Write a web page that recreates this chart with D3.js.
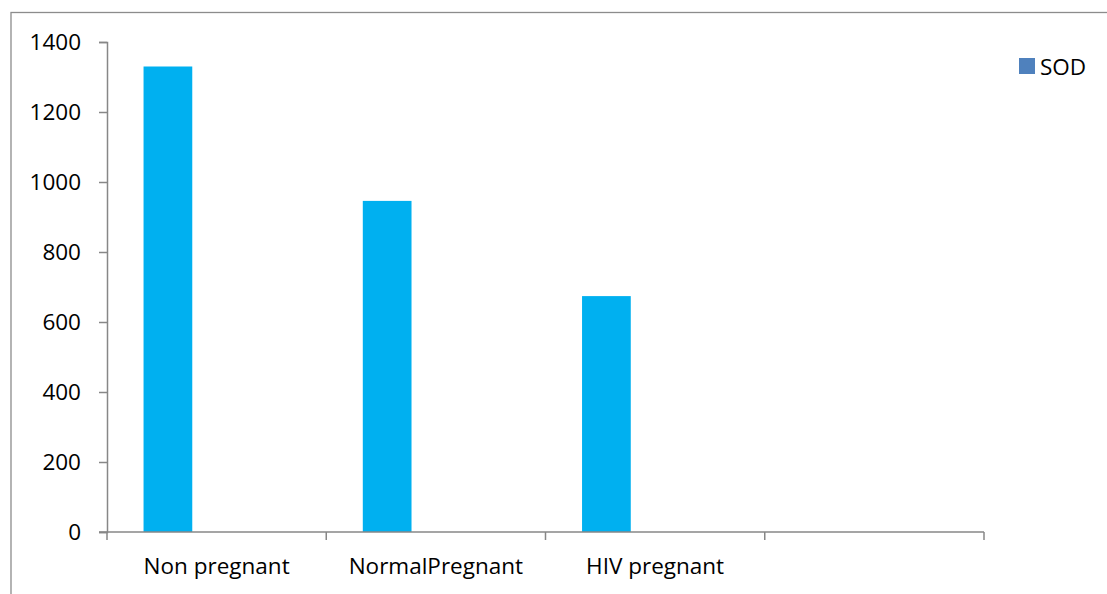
<!DOCTYPE html>
<html>
<head>
<meta charset="utf-8">
<script src="https://cdn.jsdelivr.net/npm/d3@7"></script>
<style>
  html, body { margin: 0; padding: 0; background: #fff; }
  svg { display: block; }
  text { font-family: "Open Sans", sans-serif; fill: #000; }
</style>
</head>
<body>
<svg id="chart" width="1107" height="594"></svg>
<script>
// Category axis (the last slot is an empty category)
const categories = ["Non pregnant", "NormalPregnant", "HIV pregnant", ""];
// SOD activity per group
const sodValues = [1330, 946, 674, null];
const seriesName = "SOD";
// Clustered layout reserves three series slots per category
const seriesSlots = [0, 1, 2];
const yTicks = [0, 200, 400, 600, 800, 1000, 1200, 1400];

const svg = d3.select("#chart");
const margin = { left: 107, right: 1107 - 984, top: 42, bottom: 594 - 532 };
const width = 1107, height = 594;

// Outer frame of the chart area
svg.append("rect")
  .attr("x", 11).attr("y", 12.5)
  .attr("width", 1200).attr("height", 700)
  .attr("fill", "none").attr("stroke", "#8c8c8c").attr("stroke-width", 1.3);

const x0 = d3.scaleBand()
  .domain(d3.range(categories.length))
  .range([margin.left, width - margin.right])
  .paddingInner(0).paddingOuter(0);

const x1 = d3.scaleBand()
  .domain(seriesSlots)
  .range([0, x0.bandwidth()])
  .paddingInner(0).paddingOuter(0.75);

const y = d3.scaleLinear()
  .domain([0, 1400])
  .range([height - margin.bottom, margin.top]);

// Bars (SOD occupies the first slot of each cluster)
svg.append("g").selectAll("rect")
  .data(sodValues.map((v, i) => ({ i, v })).filter(d => d.v != null))
  .join("rect")
  .attr("x", d => x0(d.i) + x1(0))
  .attr("width", x1.bandwidth())
  .attr("y", d => y(d.v))
  .attr("height", d => y(0) - y(d.v))
  .attr("fill", "#00B0F0");

const axisColor = "#878787";

// Y axis
const yAxis = svg.append("g")
  .attr("transform", `translate(${margin.left},0)`)
  .call(d3.axisLeft(y).tickValues(yTicks).tickSize(8).tickPadding(18).tickFormat(d3.format("d")));
yAxis.select(".domain").attr("stroke", axisColor).attr("stroke-width", 1.5);
yAxis.selectAll(".tick line").attr("stroke", axisColor).attr("stroke-width", 1.5);
yAxis.selectAll(".tick text")
  .style("font-family", "'Open Sans', sans-serif")
  .style("font-size", "22.5px").attr("fill", "#000");

// X axis: ticks at category boundaries
const boundaries = d3.range(categories.length + 1).map(i =>
  i < categories.length ? x0(i) : x0(categories.length - 1) + x0.bandwidth());
const xg = svg.append("g");
xg.append("line")
  .attr("x1", margin.left - 8).attr("x2", boundaries[boundaries.length - 1])
  .attr("y1", y(0)).attr("y2", y(0))
  .attr("stroke", axisColor).attr("stroke-width", 1.5);
xg.selectAll("line.tk")
  .data(boundaries)
  .join("line").attr("class", "tk")
  .attr("x1", d => d).attr("x2", d => d)
  .attr("y1", y(0)).attr("y2", y(0) + 8)
  .attr("stroke", axisColor).attr("stroke-width", 1.5);
xg.selectAll("text")
  .data(categories)
  .join("text")
  .attr("x", (d, i) => x0(i) + x0.bandwidth() / 2)
  .attr("y", y(0) + 42)
  .attr("text-anchor", "middle")
  .style("font-size", "22.5px")
  .text(d => d);

// Legend
const legend = svg.append("g").attr("transform", "translate(1019,58)");
legend.append("rect").attr("width", 16).attr("height", 16).attr("fill", "#4F81BD");
legend.append("text")
  .attr("x", 21).attr("y", 16.5)
  .style("font-size", "22.5px")
  .text(seriesName);
</script>
</body>
</html>
